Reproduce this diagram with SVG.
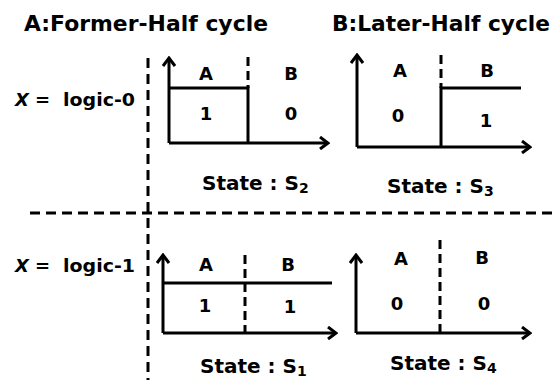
<svg xmlns="http://www.w3.org/2000/svg" width="558" height="380" viewBox="0 0 558 380">
<style>
  text { font-family: "DejaVu Sans", Verdana, sans-serif; font-weight: bold; fill: #000; }
  .title { font-size: 22px; }
  .xl { font-size: 18px; }
  .lab { font-size: 18px; text-anchor: middle; }
  .st { font-size: 20px; }
  .sub { font-size: 14px; }
  .ax { stroke: #000; stroke-width: 3; fill: none; marker-end: url(#arr); }
  .sig { stroke: #000; stroke-width: 3; fill: none; }
  .dash { stroke: #000; stroke-width: 3; fill: none; stroke-dasharray: 9 5; }
  .sep { stroke: #000; stroke-width: 3; fill: none; stroke-dasharray: 10 6; }
</style>
<defs>
  <marker id="arr" viewBox="0 0 12 14" refX="10" refY="7" markerWidth="12" markerHeight="14" orient="auto" markerUnits="userSpaceOnUse">
    <path d="M2,1 L10,7 L2,13" fill="none" stroke="#000" stroke-width="3"/>
  </marker>
</defs>

<g id="titles">
  <text class="title" x="24" y="31" textLength="244" lengthAdjust="spacingAndGlyphs">A:Former-Half cycle</text>
  <text class="title" x="332" y="31" textLength="218" lengthAdjust="spacingAndGlyphs">B:Later-Half cycle</text>
</g>

<g id="row-labels">
  <text class="xl" y="106"><tspan x="15" font-style="italic">X</tspan><tspan x="35">=</tspan><tspan x="63" textLength="72" lengthAdjust="spacingAndGlyphs">logic-0</tspan></text>
  <text class="xl" y="272"><tspan x="15" font-style="italic">X</tspan><tspan x="35">=</tspan><tspan x="63" textLength="72" lengthAdjust="spacingAndGlyphs">logic-1</tspan></text>
</g>

<g id="connectors">
  <line class="sep" x1="148" y1="58" x2="148" y2="380"/>
  <line class="sep" x1="30" y1="213" x2="558" y2="213"/>
</g>

<g id="chart-s2">
  <line class="ax" x1="169" y1="143" x2="169" y2="58"/>
  <line class="ax" x1="169" y1="143" x2="328" y2="143"/>
  <polyline class="sig" points="169,88 248,88 248,143"/>
  <line class="dash" x1="248" y1="57" x2="248" y2="88"/>
  <text class="lab" x="206" y="80">A</text>
  <text class="lab" x="291" y="80">B</text>
  <text class="lab" x="206" y="120">1</text>
  <text class="lab" x="291" y="120">0</text>
  <text class="st" x="202" y="190">State : S<tspan class="sub" dy="3">2</tspan></text>
</g>

<g id="chart-s3">
  <line class="ax" x1="357" y1="147" x2="357" y2="55"/>
  <line class="ax" x1="357" y1="147" x2="530" y2="147"/>
  <polyline class="sig" points="441,147 441,88 521,88"/>
  <line class="dash" x1="441" y1="55" x2="441" y2="88"/>
  <text class="lab" x="400" y="77">A</text>
  <text class="lab" x="487" y="77">B</text>
  <text class="lab" x="398" y="122">0</text>
  <text class="lab" x="486" y="127">1</text>
  <text class="st" x="387" y="193">State : S<tspan class="sub" dy="3">3</tspan></text>
</g>

<g id="chart-s1">
  <line class="ax" x1="163" y1="333" x2="163" y2="255"/>
  <line class="ax" x1="163" y1="333" x2="336" y2="333"/>
  <line class="sig" x1="163" y1="283" x2="332" y2="283"/>
  <line class="dash" x1="245" y1="255" x2="245" y2="333"/>
  <text class="lab" x="206" y="271">A</text>
  <text class="lab" x="288" y="271">B</text>
  <text class="lab" x="205" y="312">1</text>
  <text class="lab" x="290" y="313">1</text>
  <text class="st" x="200" y="373">State : S<tspan class="sub" dy="3">1</tspan></text>
</g>

<g id="chart-s4">
  <line class="ax" x1="356" y1="333" x2="356" y2="255"/>
  <line class="ax" x1="356" y1="333" x2="530" y2="333"/>
  <line class="dash" x1="440" y1="240" x2="440" y2="333"/>
  <text class="lab" x="401" y="265">A</text>
  <text class="lab" x="482" y="264">B</text>
  <text class="lab" x="397" y="310">0</text>
  <text class="lab" x="484" y="310">0</text>
  <text class="st" x="390" y="370">State : S<tspan class="sub" dy="3">4</tspan></text>
</g>
</svg>
